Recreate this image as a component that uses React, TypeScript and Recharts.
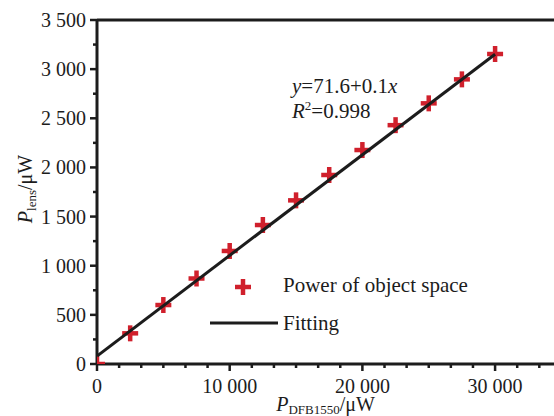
import React from 'react';
import {
  ScatterChart,
  Scatter,
  XAxis,
  YAxis,
  ReferenceLine,
  Legend,
  Customized,
} from 'recharts';

// measured points (object-space power vs lens power)
const xValues = [0, 2500, 5000, 7500, 10000, 12500, 15000, 17500, 20000, 22500, 25000, 27500, 30000];
const yValues = [0, 312, 600, 870, 1150, 1414, 1665, 1923, 2177, 2430, 2652, 2896, 3154];

// fitted line endpoints
const fitX = [0, 30000];
const fitY = [81, 3152];

const xTicks = [0, 1667, 3333, 5000, 6667, 8333, 10000, 11667, 13333, 15000, 16667, 18333, 20000, 21667, 23333, 25000, 26667, 28333, 30000, 31667, 33333];
const xLabels = [0, 10000, 20000, 30000];
const yTicks = [0, 250, 500, 750, 1000, 1250, 1500, 1750, 2000, 2250, 2500, 2750, 3000, 3250, 3500];
const yLabels = [0, 500, 1000, 1500, 2000, 2500, 3000, 3500];

const points = xValues.map((x, i) => ({ x, y: yValues[i] }));
const fitData = fitX.map((x, i) => ({ x, y: fitY[i] }));

const RED = '#d0202c';
const INK = '#1c1c1c';
const FONT = '"Liberation Serif", "Times New Roman", serif';

const fmt = (v: number) => String(v).replace(/\B(?=(\d{3})+(?!\d))/g, ' ');

const XTick = (props: any) => {
  const { x, y, payload } = props;
  const major = xLabels.includes(payload.value);
  return (
    <g>
      <line x1={x} x2={x} y1={y} y2={y + (major ? 7 : 4)} stroke={INK} strokeWidth={2.5} />
      {major && (
        <text x={x} y={y + 29} textAnchor="middle" fontFamily={FONT} fontSize={20} fill={INK}>
          {fmt(payload.value)}
        </text>
      )}
    </g>
  );
};

const YTick = (props: any) => {
  const { x, y, payload } = props;
  const major = yLabels.includes(payload.value);
  return (
    <g>
      <line x1={x} x2={x - (major ? 7 : 4)} y1={y} y2={y} stroke={INK} strokeWidth={2.5} />
      {major && (
        <text x={x - 11} y={y + 7} textAnchor="end" fontFamily={FONT} fontSize={20} fill={INK}>
          {fmt(payload.value)}
        </text>
      )}
    </g>
  );
};

const Plus = (props: any) => {
  const { cx, cy } = props;
  const s = 8;
  return (
    <g>
      <line x1={cx - s} x2={cx + s} y1={cy} y2={cy} stroke={RED} strokeWidth={4.5} />
      <line x1={cx} x2={cx} y1={cy - s} y2={cy + s} stroke={RED} strokeWidth={4.5} />
    </g>
  );
};

const NoShape = () => <g />;

const XTitle = (props: any) => {
  const vb = props.viewBox;
  return (
    <text x={vb.x + vb.width / 2} y={vb.y + 47} textAnchor="middle" fontFamily={FONT} fontSize={20} fill={INK}>
      <tspan fontStyle="italic">P</tspan>
      <tspan fontSize={13} dy={3}>DFB1550</tspan>
      <tspan dy={-3}>/μW</tspan>
    </text>
  );
};

const YTitle = () => (
  <text
    x={32}
    y={189}
    transform="rotate(-90 32 189)"
    textAnchor="middle"
    fontFamily={FONT}
    fontSize={20}
    fill={INK}
  >
    <tspan fontStyle="italic">P</tspan>
    <tspan fontSize={13} dy={4}>lens</tspan>
    <tspan dy={-4}>/μW</tspan>
  </text>
);

const Annotation = () => (
  <g fontFamily={FONT} fontSize={21} fill={INK}>
    <text x={292} y={93}>
      <tspan fontStyle="italic">y</tspan>=71.6+0.1<tspan fontStyle="italic">x</tspan>
    </text>
    <text x={292} y={118}>
      <tspan fontStyle="italic">R</tspan>
      <tspan fontSize={13} dy={-8}>2</tspan>
      <tspan dy={8}>=0.998</tspan>
    </text>
  </g>
);

const LegendBox = () => (
  <svg width={300} height={70} style={{ display: 'block' }}>
    <g>
      <line x1={35} x2={51} y1={19} y2={19} stroke={RED} strokeWidth={4.5} />
      <line x1={43} x2={43} y1={11} y2={27} stroke={RED} strokeWidth={4.5} />
    </g>
    <text x={83} y={24} fontFamily={FONT} fontSize={21} fill={INK}>Power of object space</text>
    <line x1={10} x2={78} y1={55} y2={55} stroke={INK} strokeWidth={3} />
    <text x={83} y={62} fontFamily={FONT} fontSize={21} fill={INK}>Fitting</text>
  </svg>
);

export default function App() {
  return (
    <div style={{ position: 'absolute', left: 0, top: 0 }}>
      <ScatterChart width={554} height={416} margin={{ top: 20, right: 0, bottom: 0, left: 0 }}>
        <XAxis
          type="number"
          dataKey="x"
          domain={[0, 34440]}
          allowDataOverflow
          ticks={xTicks}
          interval={0}
          tickSize={0}
          tickMargin={0}
          tick={<XTick />}
          tickLine={false}
          axisLine={{ stroke: INK, strokeWidth: 3 }}
          height={52}
          label={<XTitle />}
        />
        <YAxis
          type="number"
          dataKey="y"
          domain={[0, 3500]}
          allowDataOverflow
          ticks={yTicks}
          interval={0}
          tickSize={0}
          tickMargin={0}
          tick={<YTick />}
          tickLine={false}
          axisLine={{ stroke: INK, strokeWidth: 3 }}
          width={97}
        />
        <ReferenceLine y={3500} stroke={INK} strokeWidth={3} />
        <Scatter data={points} shape={<Plus />} isAnimationActive={false} />
        <Scatter
          data={fitData}
          shape={<NoShape />}
          line={{ stroke: INK, strokeWidth: 3 }}
          isAnimationActive={false}
        />
        <Customized component={YTitle} />
        <Customized component={Annotation} />
        <Legend
          layout="horizontal"
          verticalAlign="middle"
          align="center"
          content={() => <LegendBox />}
          wrapperStyle={{ left: 200, top: 268, width: 300 }}
        />
      </ScatterChart>
    </div>
  );
}
